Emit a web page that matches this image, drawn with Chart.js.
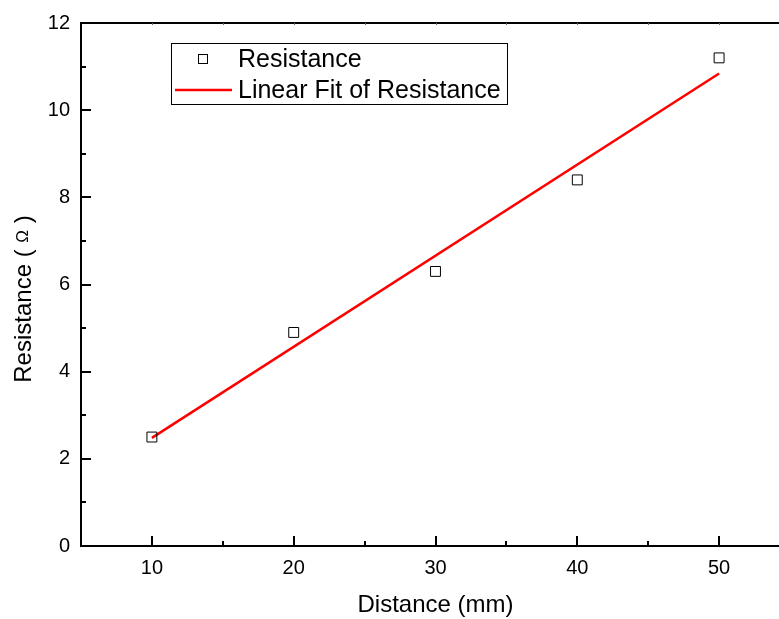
<!DOCTYPE html>
<html>
<head>
<meta charset="utf-8">
<script src="https://cdn.jsdelivr.net/npm/chart.js@4.4.0/dist/chart.umd.min.js"></script>
<style>
  html, body { margin: 0; padding: 0; background: #fff; overflow: hidden; }
  #wrap { width: 800px; height: 619px; }
</style>
</head>
<body>
<div id="wrap"><canvas id="c" width="800" height="619"></canvas></div>
<script>
// ---- data ----
const distance = [10, 20, 30, 40, 50];
const resistance = [2.5, 4.9, 6.3, 8.4, 11.2];
const fitX = [10, 50];
const fitY = [2.48, 10.84];
const xTickLabels = [10, 20, 30, 40, 50];
const yTickLabels = [0, 2, 4, 6, 8, 10, 12];
const seriesNames = ['Resistance', 'Linear Fit of Resistance'];
const xTitle = 'Distance (mm)';
const yTitleParts = ['Resistance ( ', 'Ω', ' )'];

const FONT = '"Liberation Sans", Arial, sans-serif';

const inwardTicks = {
  id: 'inwardTicks',
  afterDraw(chart) {
    const ctx = chart.ctx;
    const xs = chart.scales.x, ys = chart.scales.y;
    const a = chart.chartArea;
    ctx.save();
    ctx.strokeStyle = '#000';
    ctx.lineWidth = 2;
    ctx.beginPath();
    for (let v = 0; v <= 12; v += 1) {
      const py = Math.round(ys.getPixelForValue(v));
      const len = yTickLabels.includes(v) ? 10 : 5;
      ctx.moveTo(a.left, py);
      ctx.lineTo(a.left + len, py);
    }
    for (let v = 5; v <= 55; v += 5) {
      const px = Math.round(xs.getPixelForValue(v));
      const len = xTickLabels.includes(v) ? 10 : 5;
      ctx.moveTo(px, a.bottom);
      ctx.lineTo(px, a.bottom - len);
    }
    ctx.stroke();
    ctx.lineWidth = 1;
    ctx.strokeStyle = '#666';
    ctx.beginPath();
    for (let v = 10; v <= 55; v += 5) {
      const px = Math.round(xs.getPixelForValue(v)) + 0.5;
      ctx.moveTo(px, a.top);
      ctx.lineTo(px, a.top + 2);
    }
    ctx.stroke();

    // axis titles
    ctx.fillStyle = '#000';
    ctx.font = '24px ' + FONT;
    ctx.textAlign = 'center';
    ctx.textBaseline = 'alphabetic';
    ctx.fillText(xTitle, (a.left + a.right) / 2, 612);

    ctx.save();
    ctx.translate(31, 299);
    ctx.rotate(-Math.PI / 2);
    ctx.textAlign = 'left';
    const f1 = '24px ' + FONT, f2 = '17px ' + FONT;
    ctx.font = f1; const w1 = ctx.measureText(yTitleParts[0]).width;
    const w3 = ctx.measureText(yTitleParts[2]).width;
    ctx.font = f2; const w2 = ctx.measureText(yTitleParts[1]).width;
    let x0 = -(w1 + w2 + w3) / 2;
    ctx.font = f1; ctx.fillText(yTitleParts[0], x0, 0);
    ctx.font = f2; ctx.fillText(yTitleParts[1], x0 + w1, -3);
    ctx.font = f1; ctx.fillText(yTitleParts[2], x0 + w1 + w2, 0);
    ctx.restore();

    // legend
    ctx.fillStyle = '#fff';
    ctx.fillRect(171.5, 43.5, 336, 61);
    ctx.strokeStyle = '#000';
    ctx.lineWidth = 1;
    ctx.strokeRect(171.5, 43.5, 336, 61);
    ctx.strokeRect(198.5, 54.5, 9, 9);
    ctx.strokeStyle = '#ff0000';
    ctx.lineWidth = 2.5;
    ctx.beginPath();
    ctx.moveTo(175, 90);
    ctx.lineTo(232, 90);
    ctx.stroke();
    ctx.fillStyle = '#000';
    ctx.font = '25px ' + FONT;
    ctx.textAlign = 'left';
    ctx.fillText(chart.data.datasets[0].label, 238, 67);
    ctx.fillText(chart.data.datasets[1].label, 238, 98);
    ctx.restore();
  }
};

new Chart(document.getElementById('c'), {
  type: 'scatter',
  data: {
    datasets: [
      {
        label: seriesNames[0],
        data: distance.map((x, i) => ({ x: x, y: resistance[i] })),
        pointStyle: 'rect',
        pointRadius: 7,
        pointBorderWidth: 1,
        pointBorderColor: '#000',
        pointBackgroundColor: 'rgba(255,255,255,0)',
        showLine: false
      },
      {
        label: seriesNames[1],
        data: fitX.map((x, i) => ({ x: x, y: fitY[i] })),
        showLine: true,
        borderColor: '#ff0000',
        borderWidth: 2.5,
        pointRadius: 0,
        fill: false
      }
    ]
  },
  options: {
    responsive: false,
    animation: false,
    layout: { padding: { left: 0, right: 10, top: 0, bottom: 0 } },
    plugins: { legend: { display: false }, tooltip: { enabled: false }, title: { display: false } },
    scales: {
      x: {
        type: 'linear', position: 'bottom', min: 5, max: 55,
        grid: { display: false, drawTicks: false },
        border: { display: true, color: '#000', width: 2 },
        ticks: {
          stepSize: 5, padding: 10, color: '#000', maxRotation: 0, autoSkip: false,
          font: { family: FONT, size: 20 },
          callback: v => xTickLabels.includes(v) ? String(v) : ''
        },
        afterFit: s => { s.height = 73; }
      },
      x2: {
        type: 'linear', position: 'top', min: 5, max: 55,
        grid: { display: false, drawTicks: false },
        border: { display: true, color: '#000', width: 2 },
        ticks: { display: false },
        afterFit: s => { s.height = 21; }
      },
      y: {
        type: 'linear', position: 'left', min: 0, max: 12,
        grid: { display: false, drawTicks: false },
        border: { display: true, color: '#000', width: 2 },
        ticks: {
          stepSize: 1, padding: 11, color: '#000', autoSkip: false,
          font: { family: FONT, size: 20 },
          callback: v => yTickLabels.includes(v) ? String(v) : ''
        },
        afterFit: s => { s.width = 81; }
      }
    }
  },
  plugins: [inwardTicks]
});
</script>
</body>
</html>
